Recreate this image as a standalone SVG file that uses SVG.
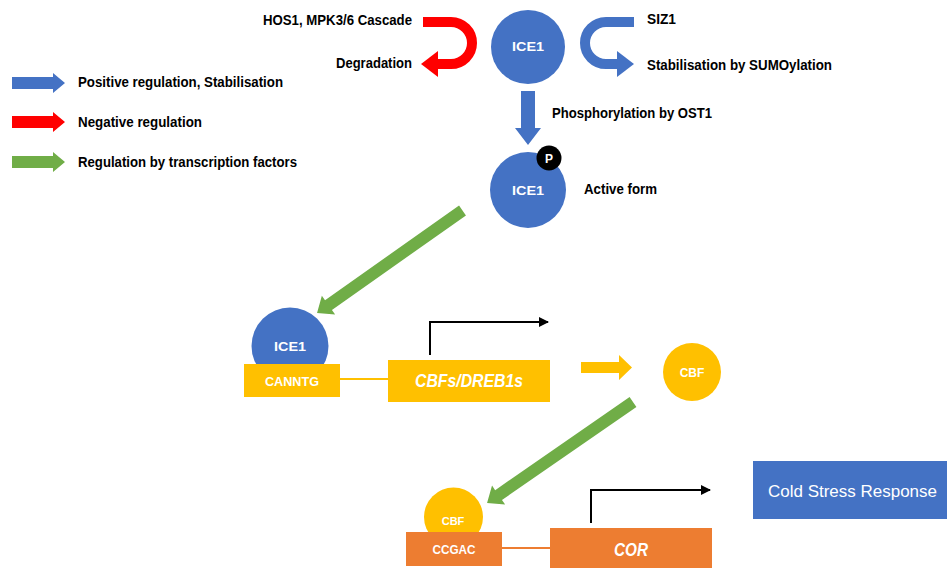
<svg xmlns="http://www.w3.org/2000/svg" width="947" height="569" viewBox="0 0 947 569">
<style>
.t{font-family:"Liberation Sans",Arial,sans-serif;font-weight:bold;font-size:14px;fill:#000}
.w{font-family:"Liberation Sans",Arial,sans-serif;font-weight:bold;fill:#fff;text-anchor:middle}
.wi{font-family:"Liberation Sans",Arial,sans-serif;font-weight:bold;font-style:italic;fill:#fff;text-anchor:middle}
.blue{fill:#4472C4}.red{fill:#FF0000}.green{fill:#70AD47}.yel{fill:#FFC000}.org{fill:#ED7D31}
.bk{fill:none;stroke:#000;stroke-width:2}
</style>
<defs>
<marker id="ah" viewBox="0 0 10 10" refX="9" refY="5" markerWidth="5" markerHeight="5" orient="auto" markerUnits="strokeWidth">
<path d="M0,0 L10,5 L0,10 z" fill="#000"/>
</marker>
<polygon id="legarrow" points="12,-6 53,-6 53,-10 65,0 53,10 53,6 12,6"/>
</defs>
<rect width="947" height="569" fill="#fff"/>

<g id="legend">
<use href="#legarrow" y="83" class="blue"/>
<use href="#legarrow" y="122" class="red"/>
<use href="#legarrow" y="162" class="green"/>
<text class="t" x="78" y="87" textLength="205" lengthAdjust="spacingAndGlyphs">Positive regulation, Stabilisation</text>
<text class="t" x="78" y="127" textLength="124" lengthAdjust="spacingAndGlyphs">Negative regulation</text>
<text class="t" x="78" y="167" textLength="219" lengthAdjust="spacingAndGlyphs">Regulation by transcription factors</text>
</g>

<g id="connectors">
<path d="M423,22 H451 A21 21 0 0 1 451,64 H437" fill="none" stroke="#FF0000" stroke-width="10"/>
<polygon class="red" points="438,51 438,77 421,64"/>
<path d="M634,22 H606 A21 21 0 0 0 606,64 H617" fill="none" stroke="#4472C4" stroke-width="10"/>
<polygon class="blue" points="617,51 617,77 634,64"/>
<polygon class="blue" points="521,91 535,91 535,128 541,128 528,145 515,128 521,128"/>
<polygon class="green" transform="translate(462.5,210.5) rotate(144.8)" points="0,-6 164,-6 164,-11.5 178,0 164,11.5 164,6 0,6"/>
<polygon class="green" transform="translate(633,402) rotate(145.3)" points="0,-6 163.5,-6 163.5,-11.5 177.5,0 163.5,11.5 163.5,6 0,6"/>
<line x1="340" y1="379" x2="388" y2="379" stroke="#FFC000" stroke-width="2"/>
<line x1="502" y1="548" x2="550" y2="548" stroke="#ED7D31" stroke-width="2"/>
<path class="bk" d="M430,355 V322 H548" marker-end="url(#ah)"/>
<path class="bk" d="M591,523 V490 H710" marker-end="url(#ah)"/>
<polygon class="yel" points="581,362 619,362 619,355 632,367.5 619,380 619,373 581,373"/>
</g>

<g id="labels">
<text class="t" x="412" y="25" text-anchor="end" textLength="149" lengthAdjust="spacingAndGlyphs">HOS1, MPK3/6 Cascade</text>
<text class="t" x="412" y="68" text-anchor="end" textLength="76" lengthAdjust="spacingAndGlyphs">Degradation</text>
<text class="t" x="647" y="24" textLength="29" lengthAdjust="spacingAndGlyphs">SIZ1</text>
<text class="t" x="647" y="70" textLength="185" lengthAdjust="spacingAndGlyphs">Stabilisation by SUMOylation</text>
<text class="t" x="552" y="118" textLength="160" lengthAdjust="spacingAndGlyphs">Phosphorylation by OST1</text>
<text class="t" x="584" y="194" textLength="73" lengthAdjust="spacingAndGlyphs">Active form</text>
</g>

<g id="ice1-top">
<circle class="blue" cx="528" cy="47" r="37"/>
<text class="w" x="528" y="51" font-size="12" textLength="32" lengthAdjust="spacingAndGlyphs">ICE1</text>
</g>

<g id="ice1-active">
<circle class="blue" cx="528" cy="190" r="38"/>
<text class="w" x="528" y="195" font-size="12" textLength="32" lengthAdjust="spacingAndGlyphs">ICE1</text>
<circle cx="549" cy="158" r="12.5" fill="#000"/>
<text class="w" x="549" y="163" font-size="12">P</text>
</g>

<g id="ice1-bound">
<circle class="blue" cx="290" cy="346" r="38.5"/>
<text class="w" x="290" y="351" font-size="12" textLength="32" lengthAdjust="spacingAndGlyphs">ICE1</text>
</g>

<g id="canntg">
<rect class="yel" x="244" y="364" width="96" height="33"/>
<text class="w" x="292" y="386" font-size="13" textLength="54" lengthAdjust="spacingAndGlyphs">CANNTG</text>
</g>

<g id="cbfs-gene">
<rect class="yel" x="388" y="360" width="162" height="42"/>
<text class="wi" x="469" y="387" font-size="18" textLength="108" lengthAdjust="spacingAndGlyphs">CBFs/DREB1s</text>
</g>

<g id="cbf-protein">
<circle class="yel" cx="692" cy="372" r="29"/>
<text class="w" x="692" y="377" font-size="12">CBF</text>
</g>

<g id="cbf-bound">
<circle class="yel" cx="453.5" cy="517" r="29.5"/>
<text class="w" x="453" y="525" font-size="11">CBF</text>
</g>

<g id="ccgac">
<rect class="org" x="406" y="532" width="96" height="34"/>
<text class="w" x="454" y="554" font-size="13" textLength="43" lengthAdjust="spacingAndGlyphs">CCGAC</text>
</g>

<g id="cor-gene">
<rect class="org" x="550" y="528" width="162" height="40"/>
<text class="wi" x="631" y="556" font-size="18" textLength="34" lengthAdjust="spacingAndGlyphs">COR</text>
</g>

<g id="cold-stress">
<rect class="blue" x="753" y="461" width="194" height="58"/>
<text x="768" y="497" font-family="Liberation Sans, Arial, sans-serif" font-size="17" fill="#fff" textLength="169" lengthAdjust="spacingAndGlyphs">Cold Stress Response</text>
</g>
</svg>
